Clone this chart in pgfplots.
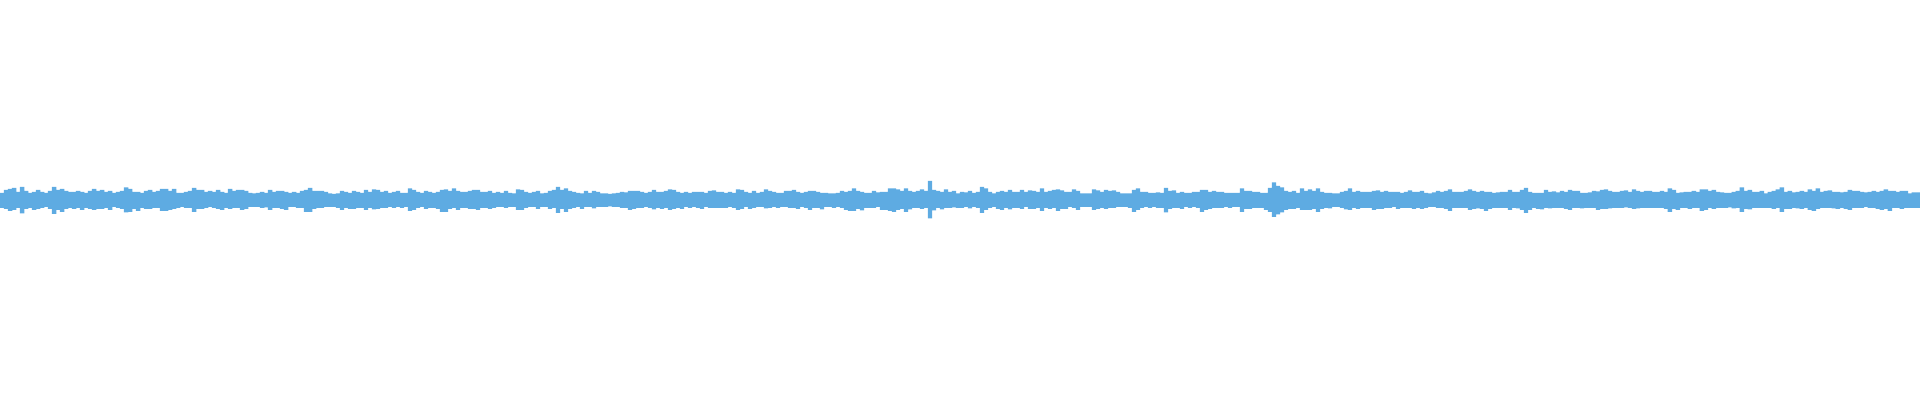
\documentclass[border=0pt]{standalone}
\usepackage{pgfplots}
\usepackage{pgfplotstable}
\pgfplotsset{compat=1.18}
\definecolor{wave}{RGB}{94,171,226}
% columns: a = upper extent, b = lower extent (pixels from centre), one row per 4 px
\pgfplotstableread[row sep=\\]{
a b\\
7 8\\ 10 9\\ 11 11\\ 12 10\\ 8 8\\ 13 13.5\\ 9 9\\ 7 8\\ 8 10\\ 10 9\\
8 8\\ 7 7\\ 9 9\\ 13 14\\ 10 10\\ 11 12\\ 9 9\\ 8 8\\ 8 9\\ 9 8\\
8 10\\ 7 8\\ 9 9\\ 11 10\\ 9 9\\ 10 9\\ 8 8\\ 9 10\\ 7 7\\ 8 8\\
9 9\\ 12.5 12.5\\ 11 12\\ 8 9\\ 8 11\\ 7 8\\ 9 9\\ 10 9\\ 8 8\\ 9 8\\
11 11\\ 11 11\\ 9 10\\ 11 9\\ 7 8\\ 7 7\\ 8 8\\ 9 8\\ 12 12\\ 10 9\\
10 9\\ 8 8\\ 9 7\\ 8 8\\ 10 9\\ 8 10\\ 7 8\\ 11 9\\ 9 8\\ 10 8\\
10 10\\ 9 9\\ 7 7\\ 6.5 7\\ 7 7\\ 8 8\\ 7 7.5\\ 10 10\\ 8 8\\ 9 8\\
9 9\\ 8 10\\ 7 7\\ 8 7\\ 7 8\\ 9 8\\ 10 12\\ 12 12\\ 9 9\\ 9 8\\
9 8\\ 8 7\\ 6.5 7\\ 6 7\\ 6.5 8\\ 9 10\\ 8 8\\ 7 9\\ 9 9\\ 8 8\\
7 8\\ 10 10\\ 8 8\\ 10.5 9.5\\ 10 9\\ 8 8\\ 9 8\\ 7 7\\ 8 8\\ 9 7\\
7 8\\ 7 7\\ 11.5 11\\ 10 10\\ 8 8\\ 7 7\\ 9 9\\ 8 8\\ 7 8\\ 8 9\\
10 12\\ 10.5 12\\ 9 9\\ 11.5 8\\ 9 10\\ 8 8\\ 8 8\\ 9 9\\ 10 9\\ 10 10\\
8 8\\ 8 8\\ 9 9\\ 7 8\\ 8 7\\ 7 7\\ 9 8\\ 7 7\\ 6.5 7\\ 10.5 10\\
10 10\\ 8 8\\ 7 7\\ 8 7\\ 9 9\\ 6.5 7\\ 7 7\\ 9 9\\ 10 8\\ 13 13\\
10 9\\ 11.5 12\\ 9 9\\ 8 8\\ 7 7\\ 6.5 9\\ 9 7\\ 7 7\\ 9 8.5\\ 8 7\\
6.5 7\\ 6.5 7\\ 6 6.5\\ 6.5 7\\ 7 7\\ 8 8\\ 7.5 8\\ 9 10\\ 9 9\\ 9 8\\
8 8\\ 7 7\\ 8 8\\ 10 9.5\\ 8 8\\ 8 9\\ 9 8\\ 10.5 10\\ 10 9\\ 8 8\\
7 9\\ 8 7\\ 7 8\\ 8 7\\ 8 8\\ 8 9\\ 7 7\\ 9 8\\ 9.5 8\\ 8 8\\
8 8\\ 7 8\\ 8 7\\ 7 8\\ 10.5 10\\ 10 9\\ 8 7\\ 7 9\\ 9 8\\ 7 7\\
8 7\\ 10.5 8.5\\ 9 8\\ 8 7\\ 7 8\\ 7 7\\ 9 7\\ 9 8\\ 10 8\\ 8 9\\
7 7\\ 8 8\\ 9 10\\ 9 8\\ 8 8\\ 7 9.5\\ 7 7\\ 6.5 7\\ 6.5 8\\ 7 7\\
9 8\\ 8 10\\ 9 11\\ 11.5 11\\ 9 9\\ 8 10.5\\ 7 8\\ 7 8\\ 9 8\\ 7.5 7\\
8 10\\ 8 10\\ 11.5 11\\ 11.5 12\\ 10.5 10\\ 9 9\\ 11.5 12\\ 9 9.5\\ 8 8\\ 9 8\\
10.5 9\\ 9 8\\ 19 18.5\\ 10 10.5\\ 9 8\\ 8 9.5\\ 10.5 8\\ 8 8\\ 9 7.5\\ 6.5 8\\
8 8\\ 7.5 7\\ 9 8.5\\ 7 7\\ 8 8\\ 13 13\\ 11.5 10\\ 8 8\\ 6.5 7\\ 8 9\\
9 10\\ 8 8\\ 10 9.5\\ 8 8\\ 8 8\\ 10 9\\ 8 7\\ 9.5 9\\ 9 9\\ 8 8\\
11.5 11\\ 8 8\\ 9 9\\ 10 8\\ 10.5 11\\ 9.5 9\\ 8 9\\ 8 7\\ 10.5 8\\ 9 10\\
6.5 7\\ 6.5 7\\ 6.5 7\\ 10.5 10\\ 9.5 9\\ 8 8\\ 10 9\\ 9 8\\ 9.5 8\\ 8 7\\
6.5 7\\ 6.5 7\\ 6.5 8\\ 10 12\\ 11.5 10\\ 8 8\\ 8 7\\ 7 8\\ 7 7\\ 7.5 8\\
7 8\\ 12 12.5\\ 9 9\\ 9.5 8\\ 7 8\\ 8 9\\ 7 7\\ 7 8\\ 8 7\\ 8 8\\
10 12\\ 10 10\\ 8 9\\ 9 8\\ 8 8\\ 8 8\\ 7 7\\ 7 8\\ 7 7\\ 7 7\\
11.5 12\\ 9 9\\ 9 9\\ 8 8\\ 8 8\\ 7 8\\ 7 10\\ 12 12\\ 17.5 17\\ 14 14.5\\
12.5 12.5\\ 9 10\\ 8 9\\ 9 9\\ 7 8\\ 11.5 10\\ 9 10\\ 10.5 10\\ 9 9\\ 11.5 12\\
8 9\\ 7 8\\ 7 8.5\\ 6.5 7\\ 6.5 7\\ 8 8\\ 9 9.5\\ 11.5 10\\ 8 8\\ 9 9\\
8 8\\ 8 8\\ 8 8\\ 9 10\\ 9.5 9\\ 8 9\\ 9 8\\ 8 8\\ 8 7\\ 8 9\\
7 8\\ 8 8\\ 9.5 8\\ 8 9\\ 8 8\\ 9 9\\ 7 8\\ 6.5 7\\ 7.5 7\\ 9 8\\
8 8\\ 9 9\\ 10.5 11\\ 8 8\\ 8 8\\ 8 8\\ 9 8\\ 10.5 10\\ 9 9\\ 8 8.5\\
9 9\\ 8 11\\ 8 9\\ 7 8\\ 7.5 8\\ 8 8\\ 8 8\\ 10 10\\ 8 8\\ 8 8.5\\
10 10\\ 12 13\\ 8 10\\ 7 8\\ 7 9\\ 7 9.5\\ 10 8\\ 8 8.5\\ 8.5 8\\ 7.5 8\\
9 8\\ 8 9\\ 10 10\\ 9 8\\ 9 8\\ 7 8.5\\ 7 8\\ 7.5 8\\ 9 8\\ 8.5 10\\
10 9\\ 10.5 9\\ 9 8.5\\ 8 8\\ 8 8\\ 9 8\\ 9.5 7.5\\ 8 8\\ 10.5 9\\ 9 8.5\\
8 8\\ 9 8\\ 9 8\\ 8 8\\ 8 8\\ 9 8\\ 8 9\\ 11.5 12\\ 10 9\\ 7 10\\
7.5 8\\ 8 8\\ 8 9\\ 9 8\\ 8 8\\ 10.5 11\\ 10.5 10\\ 9 8\\ 10 9\\ 8 8\\
7.5 8\\ 7 8\\ 7 7.5\\ 8 8.5\\ 9 8\\ 12.5 12\\ 9 9\\ 10 9.5\\ 8 8\\ 8 8\\
9 8\\ 6.5 8\\ 8 8\\ 9 9\\ 10.5 8\\ 12.5 12\\ 8 9\\ 9 9\\ 7.5 8\\ 8 8.5\\
9 9\\ 8 8\\ 10.5 10\\ 9 11\\ 11.5 9\\ 8 8\\ 9 8\\ 9.5 8\\ 8 8.5\\ 8 9\\
7.5 8\\ 8 9\\ 10 10\\ 9 8\\ 9 8\\ 8 8\\ 7.5 7\\ 8 8\\ 9 8\\ 8 9\\
9 10\\ 10.5 9\\ 9 11\\ 9 8\\ 8 8\\ 9 9\\ 9 8\\ 6.5 8\\ 7.5 8\\ 7.5 8\\
}\wave
\begin{document}
\begin{tikzpicture}
\begin{axis}[
  scale only axis,
  width=19.2cm, height=4cm,
  xmin=0, xmax=1920, ymin=-200, ymax=200,
  hide axis, clip=false,
]
\path (rel axis cs:0,0) rectangle (rel axis cs:1,1);
\addplot[ybar, bar width=4.3, bar shift=0pt, fill=wave, draw=none]
  table[x expr=\coordindex*4+2, y=a] {\wave};
\addplot[ybar, bar width=4.3, bar shift=0pt, fill=wave, draw=none]
  table[x expr=\coordindex*4+2, y expr=-\thisrow{b}] {\wave};
\end{axis}
\end{tikzpicture}
\end{document}
